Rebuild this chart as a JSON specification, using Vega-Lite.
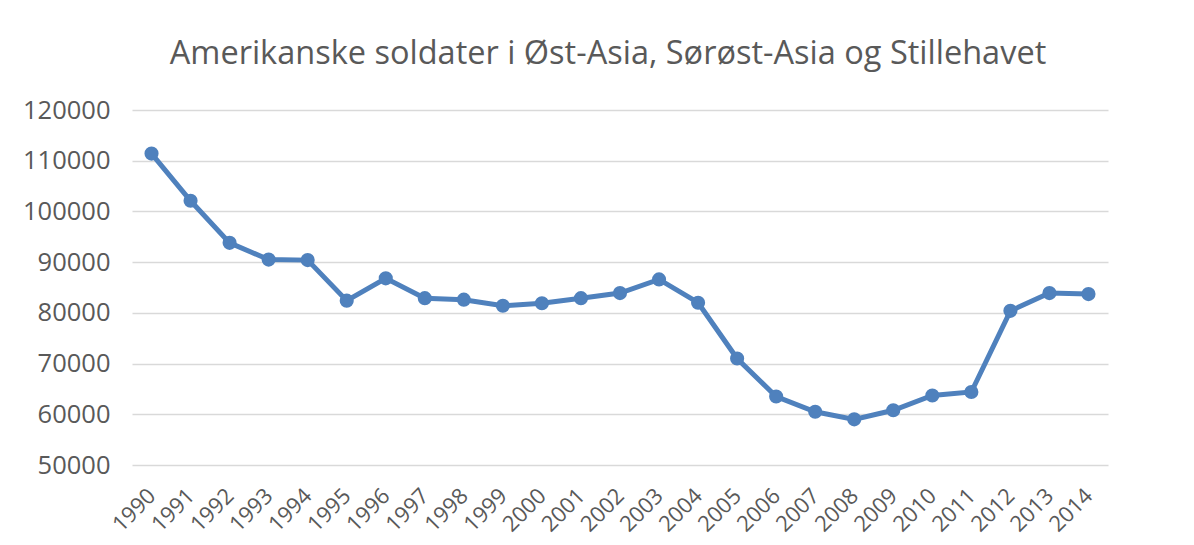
{
  "$schema": "https://vega.github.io/schema/vega-lite/v6.json",
  "width": 976,
  "height": 355,
  "autosize": {"type": "none"},
  "padding": {"left": 132, "top": 110, "right": 86, "bottom": 80},
  "background": "white",
  "title": {
    "text": "Amerikanske soldater i Øst-Asia, Sørøst-Asia og Stillehavet",
    "font": "Open Sans",
    "fontSize": 32.5,
    "fontWeight": "normal",
    "color": "#595959",
    "anchor": "middle",
    "baseline": "alphabetic",
    "offset": 2,
    "dx": -12
  },
  "data": {
    "values": [
      {"year": "1990", "soldiers": 111400},
      {"year": "1991", "soldiers": 102100},
      {"year": "1992", "soldiers": 93800},
      {"year": "1993", "soldiers": 90500},
      {"year": "1994", "soldiers": 90400},
      {"year": "1995", "soldiers": 82400},
      {"year": "1996", "soldiers": 86800},
      {"year": "1997", "soldiers": 82900},
      {"year": "1998", "soldiers": 82600},
      {"year": "1999", "soldiers": 81400},
      {"year": "2000", "soldiers": 81900},
      {"year": "2001", "soldiers": 82900},
      {"year": "2002", "soldiers": 83900},
      {"year": "2003", "soldiers": 86600},
      {"year": "2004", "soldiers": 82000},
      {"year": "2005", "soldiers": 71000},
      {"year": "2006", "soldiers": 63500},
      {"year": "2007", "soldiers": 60500},
      {"year": "2008", "soldiers": 59000},
      {"year": "2009", "soldiers": 60800},
      {"year": "2010", "soldiers": 63700},
      {"year": "2011", "soldiers": 64400},
      {"year": "2012", "soldiers": 80400},
      {"year": "2013", "soldiers": 83900},
      {"year": "2014", "soldiers": 83700}
    ]
  },
  "encoding": {
    "x": {
      "field": "year",
      "type": "ordinal",
      "scale": {"type": "point", "padding": 0.5},
      "axis": {
        "title": null,
        "labelAngle": -45,
        "labelAlign": "right",
        "labelBaseline": "middle",
        "labelPadding": 27,
        "labelFont": "Open Sans",
        "labelFontSize": 22,
        "labelColor": "#595959",
        "ticks": false,
        "domain": false,
        "grid": false
      }
    },
    "y": {
      "field": "soldiers",
      "type": "quantitative",
      "scale": {"domain": [50000, 120000], "nice": false, "zero": false},
      "axis": {
        "title": null,
        "values": [50000, 60000, 70000, 80000, 90000, 100000, 110000, 120000],
        "format": "d",
        "labelFont": "Open Sans",
        "labelFontSize": 25.5,
        "labelColor": "#595959",
        "labelPadding": 22,
        "ticks": false,
        "domain": false,
        "grid": true,
        "gridColor": "#d9d9d9",
        "gridWidth": 1.5
      }
    }
  },
  "layer": [
    {
      "mark": {"type": "line", "color": "#4f81bd", "strokeWidth": 5}
    },
    {
      "mark": {"type": "point", "filled": true, "color": "#4f81bd", "size": 200, "opacity": 1}
    }
  ],
  "config": {
    "view": {"stroke": null}
  }
}
